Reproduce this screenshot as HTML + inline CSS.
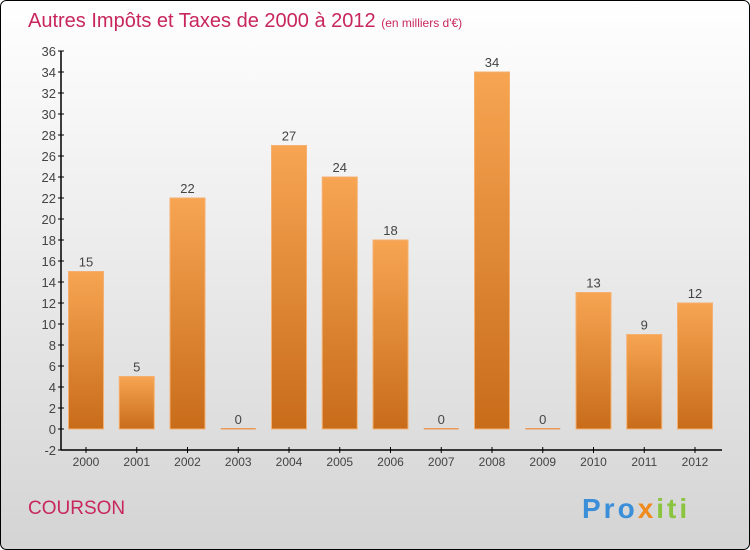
<!DOCTYPE html>
<html><head><meta charset="utf-8"><style>
body{margin:0;width:750px;height:550px;overflow:hidden}
svg{display:block}
text{font-family:"Liberation Sans",sans-serif}
</style></head><body>
<svg id="c" width="750" height="550">
<defs>
<linearGradient id="bg" x1="0" y1="0" x2="0" y2="1"><stop offset="0" stop-color="#ffffff"/><stop offset="1" stop-color="#d4d4d4"/></linearGradient>
<linearGradient id="bar" x1="0" y1="0" x2="0" y2="1"><stop offset="0" stop-color="#f7a552"/><stop offset="1" stop-color="#c86c1a"/></linearGradient>
</defs>
<rect x="0.5" y="0.5" width="749" height="549" rx="6" fill="url(#bg)" stroke="#000"/>
<text x="28" y="27" font-size="20" fill="#c8275c">Autres Impôts et Taxes de 2000 à 2012 <tspan font-size="12">(en milliers d'€)</tspan></text>
<text x="28" y="514" font-size="19" fill="#c8275c">COURSON</text>
<text x="582" y="518" font-size="28" font-weight="bold" letter-spacing="3"><tspan fill="#3a8fd8">Pro</tspan><tspan fill="#f08a1c">x</tspan><tspan fill="#8bc43f">iti</tspan></text>
<g id="plot"></g>
</svg>
<script>
const categories=["2000","2001","2002","2003","2004","2005","2006","2007","2008","2009","2010","2011","2012"];
const values=[15,5,22,0,27,24,18,0,34,0,13,9,12];
const yTicks=[-2,0,2,4,6,8,10,12,14,16,18,20,22,24,26,28,30,32,34,36];
const ns="http://www.w3.org/2000/svg";
const g=document.getElementById('plot');
const y0=429,pu=10.5,x0=86,step=50.75,bw=35;
const y=v=>y0-v*pu, x=i=>x0+i*step;
function mk(t,a,p){const e=document.createElementNS(ns,t);for(const k in a)e.setAttribute(k,a[k]);(p||g).appendChild(e);return e;}
mk('line',{x1:61,y1:y(36),x2:61,y2:y(-2),stroke:'#000','stroke-width':1.5});
mk('line',{x1:61,y1:y(-2),x2:722,y2:y(-2),stroke:'#000','stroke-width':1.5});
yTicks.forEach(v=>{
 const l=mk('line',{x1:58,y1:y(v),x2:64,y2:y(v),stroke:'#000'});
 
 
 const t=mk('text',{x:56,y:y(v)+5,'text-anchor':'end','font-size':13,fill:'#444'});t.textContent=v;
 
 
});
categories.forEach((c,i)=>{
 mk('line',{x1:x(i),y1:y(-2)-3,x2:x(i),y2:y(-2)+3,stroke:'#000'});
 const t=mk('text',{x:x(i),y:y(-2)+16,'text-anchor':'middle','font-size':12,fill:'#444'});t.textContent=c;
 
 
 const v=values[i];
 let b;
 if(v>0){b=mk('rect',{x:x(i)-bw/2,y:y(v),width:bw,height:y(0)-y(v),fill:'url(#bar)',stroke:'#f5b070','stroke-width':1});}
 else{b=mk('rect',{x:x(i)-bw/2,y:y(0)-1,width:bw,height:1.5,fill:'#e89a5a'});}
 
 
 const vl=mk('text',{x:x(i),y:y(v)-5,'text-anchor':'middle','font-size':13,fill:'#444'});vl.textContent=v;
 
 
});
</script>
</body></html>
